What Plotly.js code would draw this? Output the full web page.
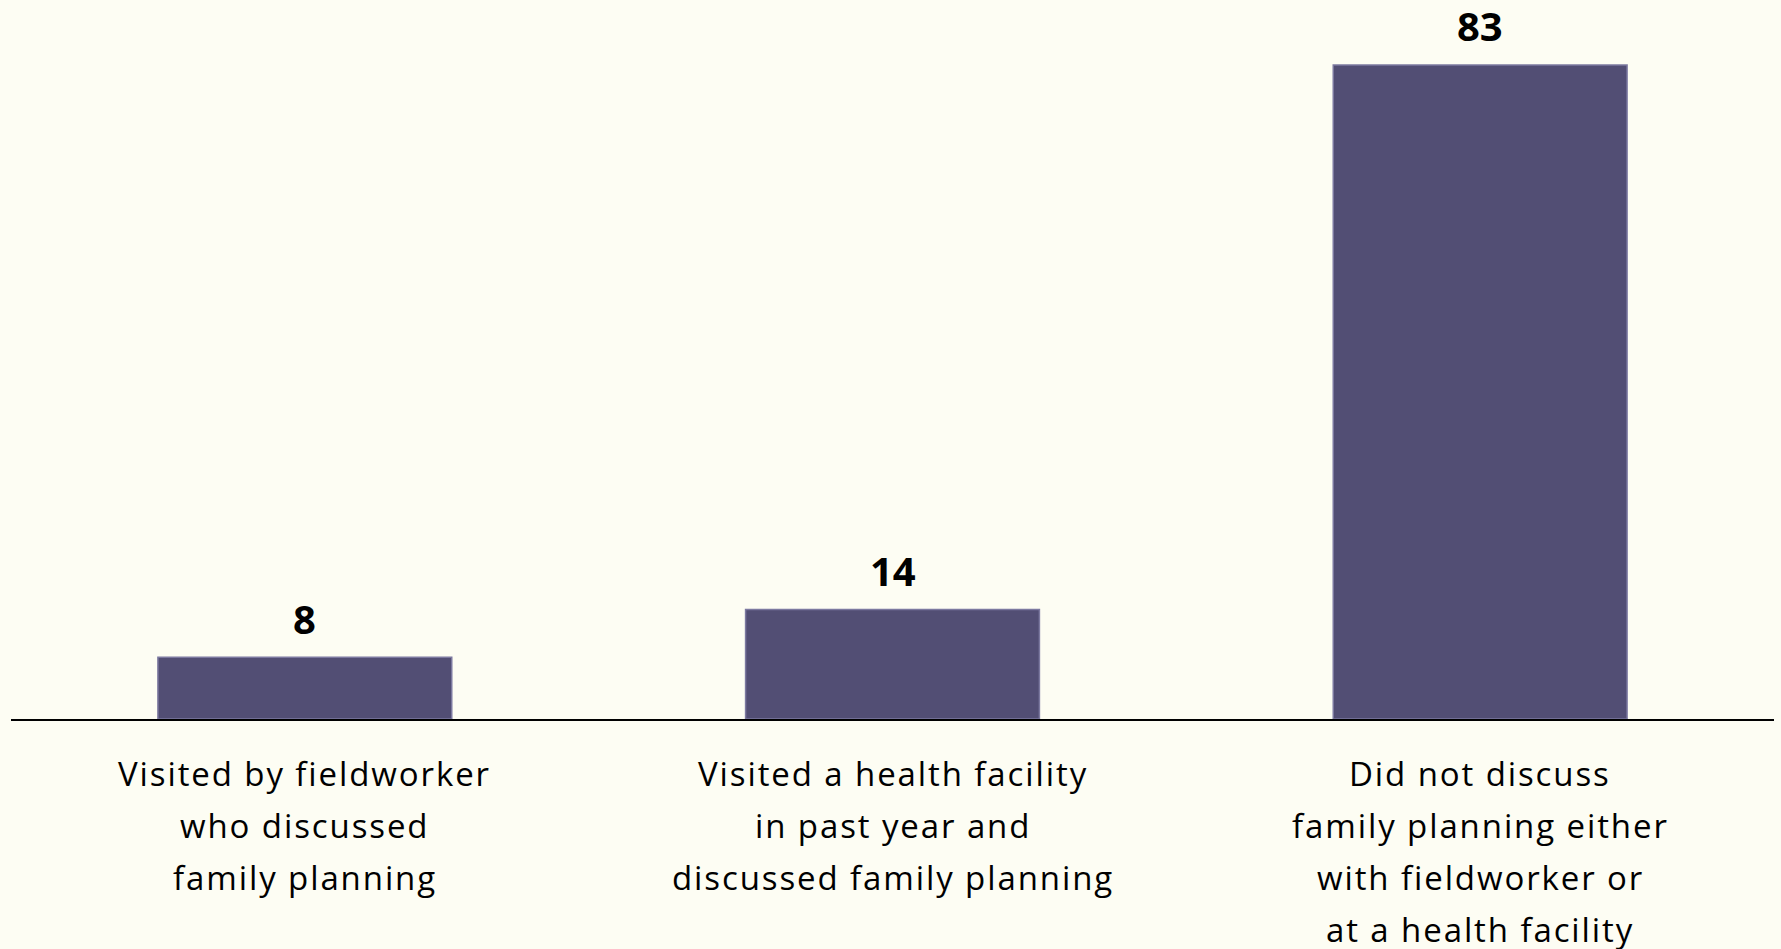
<!DOCTYPE html>
<html>
<head>
<meta charset="utf-8">
<script src="https://cdn.plot.ly/plotly-3.0.1.min.js"></script>
<style>
html,body{margin:0;padding:0;background:#FDFDF3;}
#chart{width:1781px;height:949px;}
text{font-variant-ligatures:none;}
</style>
</head>
<body>
<div id="chart"></div>
<script>
const categories = [
  "Visited by fieldworker<br>who discussed<br>family planning",
  "Visited a health facility<br>in past year and<br>discussed family planning",
  "Did not discuss<br>family planning either<br>with fieldworker or<br>at a health facility"
];
const values = [7.85, 13.9, 83.0];
const valueLabels = ["8", "14", "83"];

const catKeys = ["c0", "c1", "c2"];

const trace = {
  type: "bar",
  x: catKeys,
  y: values,
  width: 0.5,
  marker: {color: "#524E74", line: {color: "#7C79A0", width: 1.5}},
  hoverinfo: "none"
};

const annotations = [];
values.forEach((v, i) => {
  annotations.push({
    x: catKeys[i], y: v, xref: "x", yref: "y",
    text: "<b>" + valueLabels[i] + "</b>",
    showarrow: false, yanchor: "middle", yshift: 39,
    font: {family: "'Open Sans', sans-serif", size: 40, color: "#000"}
  });
  categories[i].split("<br>").forEach((line, j) => {
    annotations.push({
      x: catKeys[i], y: 0, xref: "x", yref: "paper",
      text: '<span style="letter-spacing:1.9px">' + line + '</span>',
      showarrow: false, yanchor: "middle",
      yshift: -(54 + j * 52),
      font: {family: "'Open Sans', sans-serif", size: 33, color: "#000"}
    });
  });
});

const layout = {
  width: 1781, height: 949,
  margin: {l: 11, r: 7, t: 20, b: 230, pad: 0},
  paper_bgcolor: "#FDFDF3",
  plot_bgcolor: "#FDFDF3",
  showlegend: false,
  xaxis: {
    type: "category", range: [-0.5, 2.5],
    showticklabels: false, showline: true, linecolor: "#000", linewidth: 2,
    ticks: "", showgrid: false, zeroline: false, fixedrange: true
  },
  yaxis: {
    range: [0, 88.7], visible: false, showgrid: false, zeroline: false, fixedrange: true
  },
  annotations: annotations
};

Plotly.newPlot("chart", [trace], layout, {displayModeBar: false, staticPlot: true});
</script>
</body>
</html>
